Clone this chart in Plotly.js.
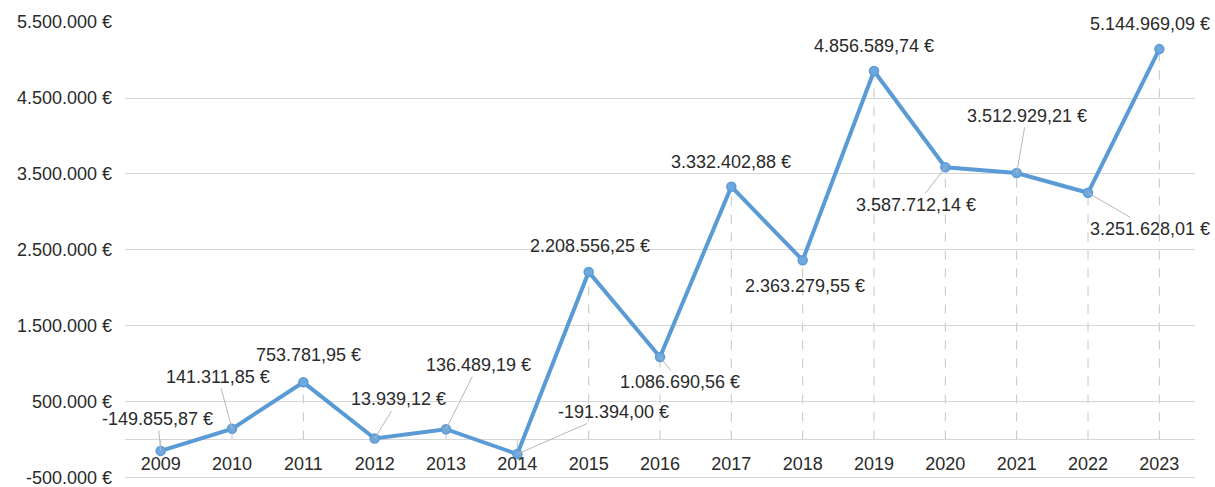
<!DOCTYPE html>
<html>
<head>
<meta charset="utf-8">
<script src="https://cdn.plot.ly/plotly-3.0.1.min.js"></script>
<style>
  html, body { margin: 0; padding: 0; background: #ffffff; }
  #chart { width: 1215px; height: 487px; }
</style>
</head>
<body>
<div id="chart"></div>
<script>
// ---- data ----
const years = ["2009","2010","2011","2012","2013","2014","2015","2016","2017","2018","2019","2020","2021","2022","2023"];
const values = [-149855.87, 141311.85, 753781.95, 13939.12, 136489.19, -191394.00, 2208556.25, 1086690.56, 3332402.88, 2363279.55, 4856589.74, 3587712.14, 3512929.21, 3251628.01, 5144969.09];
const yTickVals = [-500000, 500000, 1500000, 2500000, 3500000, 4500000, 5500000];
const yTickText = ["-500.000 €", "500.000 €", "1.500.000 €", "2.500.000 €", "3.500.000 €", "4.500.000 €", "5.500.000 €"];

// ---- label placement (pixel offsets from each point, and whether a leader line is drawn) ----
const labelDx = [-3, -14, 5, 24, 32, 96, 1, 20, 0, 2, 0, -29, 10, 62, -9];
const labelDy = [-32, -52, -27, -39, -64, -42, -26, 25, -25, 26, -25, 38, -57, 36, -25];
const labelLeader = [true, true, false, true, true, true, false, true, false, false, false, true, true, true, false];

function fmtEuro(v) {
  const neg = v < 0;
  const parts = Math.abs(v).toFixed(2).split('.');
  const intPart = parts[0].replace(/\B(?=(\d{3})+(?!\d))/g, '.');
  return (neg ? '-' : '') + intPart + ',' + parts[1] + ' €';
}

const FONT = '"Liberation Sans", Arial, sans-serif';
const TXT = '#2a2a2a';
const BLUE = '#5b9bd5';

const trace = {
  type: 'scatter',
  mode: 'lines+markers',
  x: years,
  y: values,
  line: { color: BLUE, width: 4 },
  marker: { color: '#6fa8dc', size: 9, line: { color: BLUE, width: 1.5 } },
  hoverinfo: 'skip',
  cliponaxis: false
};

const shapes = years.map((yr, i) => ({
  type: 'line', xref: 'x', yref: 'y',
  x0: i, x1: i, y0: 0, y1: values[i],
  line: { color: '#c4c4c4', width: 1, dash: 'dash' },
  layer: 'below'
}));

const annotations = years.map((yr, i) => ({
  x: i, y: values[i], xref: 'x', yref: 'y',
  text: fmtEuro(values[i]),
  showarrow: true,
  arrowhead: 0,
  arrowwidth: 1,
  arrowcolor: labelLeader[i] ? '#b8b8b8' : 'rgba(0,0,0,0)',
  standoff: 0,
  ax: labelDx[i], ay: labelDy[i],
  font: { family: FONT, size: 18, color: TXT }
}));

const Y_MIN = -520000, Y_MAX = 5502000;
const zeroPos = -Y_MIN / (Y_MAX - Y_MIN);

const layout = {
  width: 1215, height: 487,
  margin: { l: 125, r: 20, t: 22, b: 8, pad: 0 },
  paper_bgcolor: '#ffffff',
  plot_bgcolor: '#ffffff',
  showlegend: false,
  font: { family: FONT, size: 18, color: TXT },
  xaxis: {
    type: 'category',
    range: [-0.5, 14.5],
    anchor: 'free',
    position: zeroPos,
    showgrid: false,
    showline: false,
    zeroline: false,
    ticks: '',
    ticklabelstandoff: 11,
    tickfont: { family: FONT, size: 18, color: TXT },
    fixedrange: true
  },
  yaxis: {
    range: [Y_MIN, Y_MAX],
    tickvals: yTickVals,
    ticktext: yTickText,
    ticklabeloverflow: 'allow',
    showgrid: true,
    gridcolor: '#d6d6d6',
    gridwidth: 1,
    zeroline: true,
    zerolinecolor: '#d6d6d6',
    zerolinewidth: 1,
    showline: false,
    ticks: '',
    ticklabelstandoff: 12,
    tickfont: { family: FONT, size: 18, color: TXT },
    fixedrange: true
  },
  shapes: shapes,
  annotations: annotations
};

Plotly.newPlot('chart', [trace], layout, { staticPlot: true, displayModeBar: false });
</script>
</body>
</html>
